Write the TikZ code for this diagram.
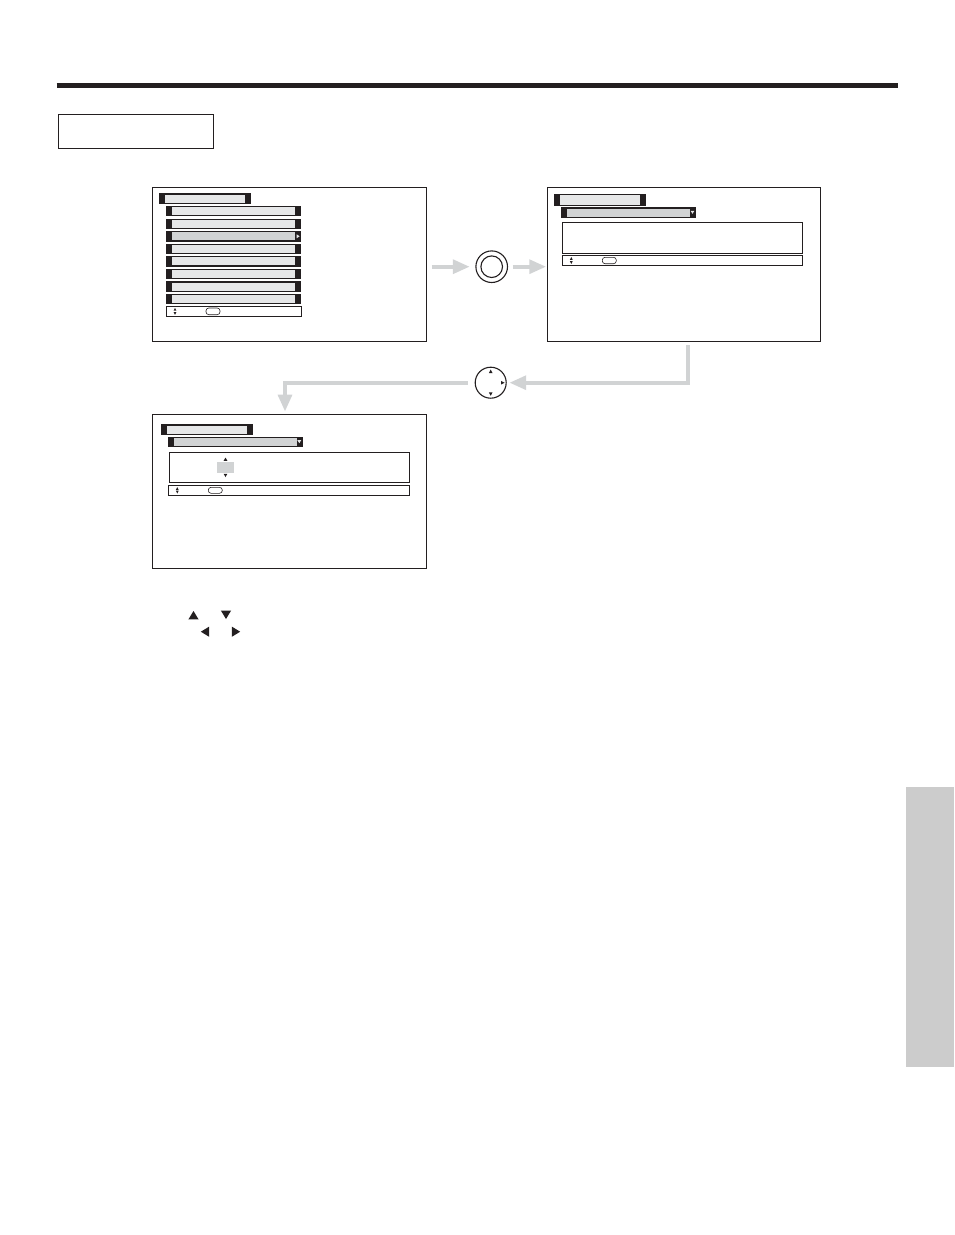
\documentclass[tikz,border=0pt]{standalone}
\usetikzlibrary{positioning, arrows.meta}
\definecolor{ink}{RGB}{35, 31, 32}
\definecolor{bar_light}{RGB}{230, 231, 232}
\definecolor{bar_dark}{RGB}{209, 211, 212}
\definecolor{flow_gray}{RGB}{209, 211, 212}
\definecolor{tab_gray}{RGB}{204, 204, 204}
\tikzstyle{screen}=[draw=ink, line width=0.9pt, inner sep=0pt, outer sep=0pt]
\tikzstyle{flow}=[draw=flow_gray, line width=4.3pt, -{Triangle[length=17pt, width=13.5pt]}]
\tikzstyle{btn}=[circle, draw=ink, line width=1.1pt, inner sep=0pt, outer sep=0pt]
\newcommand{\menubar}[5]{%
  \fill[ink] (#1,#2) rectangle (#3,#4);
  \fill[#5] (#1+5.8,#2+1.2) rectangle (#3-6,#4-1.2);
}
\newcommand{\helpbar}[4]{%
  \draw[ink, line width=0.8pt] (#1,#2) rectangle (#3,#4);
  \fill[ink] (#1+7.6,#2+4.6) -- (#1+10.4,#2+4.6) -- (#1+9,#2+1.8) -- cycle;
  \fill[ink] (#1+7.6,#4-4.6) -- (#1+10.4,#4-4.6) -- (#1+9,#4-1.8) -- cycle;
  \draw[ink, line width=0.6pt, rounded corners=2.8pt] (#1+40,#2+2) rectangle (#1+54,#4-2);
}

\begin{document}
\begin{tikzpicture}[x=1pt, y=-1pt]
    \useasboundingbox (0,0) rectangle (954,1235);
    \draw[ink, line width=4.4pt] (56.7,85.5) -- (897.5,85.5);
    \node[screen, line width=1pt, minimum width=155pt, minimum height=34.3pt] (label) at (135.8,131.2) {};
    \fill[tab_gray] (906,786.7) rectangle (954,1066.7);

    % first screen
    \node[screen, minimum width=274.4pt, minimum height=154.4pt] (menu) at (289.5,264.5) {};
    \menubar{159}{193.3}{251}{204.3}{bar_light}
    \foreach \i in {0,...,7} {
        \pgfmathsetmacro{\rowtop}{206+12.57*\i}
        \menubar{166}{\rowtop}{301}{\rowtop+10.4}{bar_light}
    }
    \menubar{166}{231.1}{301}{241.5}{bar_dark}
    \fill[bar_light] (296.6,234.3) -- (299.6,236.3) -- (296.6,238.3) -- cycle;
    \helpbar{166}{306}{301}{316.7}

    % second screen
    \node[screen, minimum width=273.4pt, minimum height=154.4pt] (setup) at (684,264.5) {};
    \menubar{554}{194}{646}{206}{bar_light}
    \menubar{561}{207.3}{696}{217.7}{bar_dark}
    \fill[bar_light] (690.6,210.8) -- (694.4,210.8) -- (692.5,213.8) -- cycle;
    \draw[ink, line width=0.9pt] (562.3,222.3) rectangle (802.7,253.3);
    \helpbar{562.3}{255.3}{802.7}{265.7}

    % third screen
    \node[screen, minimum width=274.4pt, minimum height=154pt] (adjust) at (289.5,491.3) {};
    \menubar{161}{424.3}{252.7}{435}{bar_light}
    \menubar{168.3}{436.7}{302.7}{446.7}{bar_dark}
    \fill[bar_light] (297.4,440.2) -- (301.2,440.2) -- (299.3,443.2) -- cycle;
    \draw[ink, line width=0.9pt] (169.3,452.3) rectangle (409.3,482.3);
    \fill[bar_dark] (217.3,461.7) rectangle (234,472.7);
    \fill[ink] (223.6,460.8) -- (227.4,460.8) -- (225.5,457.6) -- cycle;
    \fill[ink] (223.6,473.8) -- (227.4,473.8) -- (225.5,477) -- cycle;
    \helpbar{168.3}{485.3}{409.3}{495.3}

    % buttons
    \node[btn, minimum size=31.6pt] (enter) at (491.7,266.7) {};
    \draw[ink, line width=1.1pt] (enter.center) circle (10.8);
    \node[btn, minimum size=31pt] (dpad) at (490.7,382.7) {};
    \fill[ink] (488.9,373) -- (492.5,373) -- (490.7,369.6) -- cycle;
    \fill[ink] (488.9,392.4) -- (492.5,392.4) -- (490.7,395.8) -- cycle;
    \fill[ink] (501,380.9) -- (501,384.5) -- (504.6,382.7) -- cycle;

    % arrows
    \draw[flow, shorten <=5pt, shorten >=6pt] (menu.east |- enter) -- (enter.west);
    \draw[flow, shorten <=5pt, shorten >=1pt] (enter.east) -- (enter -| setup.west);
    \draw[flow, shorten <=3.3pt, shorten >=3pt] ([xshift=4.3pt]setup.south) |- (dpad.east);
    \draw[flow, shorten <=7.5pt, shorten >=2.6pt] (dpad.west) -| ([xshift=-4.5pt]adjust.north);

    % keys
    \fill[ink] (188.4,619.4) -- (198.6,619.4) -- (193.5,611) -- cycle;
    \fill[ink] (220.9,610.6) -- (231.1,610.6) -- (226,619) -- cycle;
    \fill[ink] (209.2,626.6) -- (209.2,636.8) -- (200.8,631.7) -- cycle;
    \fill[ink] (231.8,626.6) -- (231.8,636.8) -- (240.2,631.7) -- cycle;
\end{tikzpicture}
\end{document}
